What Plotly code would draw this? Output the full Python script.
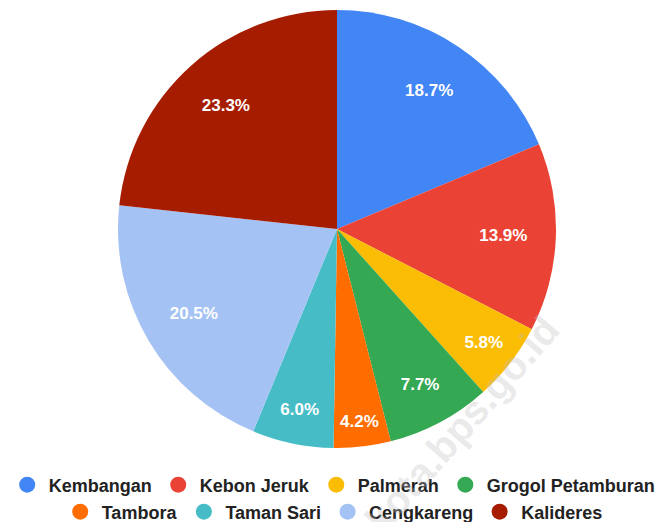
import plotly.graph_objects as go

labels = ["Kembangan", "Kebon Jeruk", "Palmerah", "Grogol Petamburan",
          "Tambora", "Taman Sari", "Cengkareng", "Kalideres"]
values = [18.7, 13.9, 5.8, 7.7, 4.2, 6.0, 20.5, 23.3]
colors = ["#4285F4", "#EA4335", "#FBBC04", "#34A853",
          "#FF6D01", "#46BDC6", "#A4C2F4", "#A61C00"]
legend_rows = ["legend", "legend", "legend", "legend",
               "legend2", "legend2", "legend2", "legend2"]
watermark = "jakbarkota.bps.go.id"

W, H = 661, 514  # page body adds an 8px offset; this fills the 669x522 window
pie_domain = dict(x=[0.16641, 0.82905], y=[0.14397, 0.99611])

fig = go.Figure()
# the slices
fig.add_trace(go.Pie(
    labels=labels, values=values, sort=False, direction="clockwise",
    rotation=0,
    marker=dict(colors=colors, line=dict(width=0)),
    textinfo="none",
    showlegend=False, hoverinfo="label+value",
    domain=pie_domain,
))
# same slices, transparent ring on top: carries the percentage labels at ~3/4 radius
fig.add_trace(go.Pie(
    labels=labels, values=values, sort=False, direction="clockwise",
    rotation=0, hole=0.52,
    marker=dict(colors=["rgba(0,0,0,0)"] * len(values), line=dict(width=0)),
    texttemplate="%{value:.1f}%", textposition="inside",
    insidetextorientation="horizontal",
    textfont=dict(color="white", size=17, family="Liberation Sans", weight="bold"),
    showlegend=False, hoverinfo="skip",
    domain=pie_domain,
))
for lab, col, lg in zip(labels, colors, legend_rows):
    fig.add_trace(go.Scatter(
        x=[None], y=[None], mode="markers", name=lab,
        marker=dict(symbol="circle", size=16, color=col),
        showlegend=True, legend=lg,
    ))

fig.add_annotation(
    text=watermark, x=415, y=461, xref="x", yref="y", showarrow=False,
    textangle=-49, font=dict(size=40, family="Liberation Sans", weight="bold",
                             color="rgba(190,190,190,0.33)"),
)

legend_font = dict(size=18, family="Liberation Sans", weight="bold", color="#222222")
fig.update_layout(
    width=W, height=H,
    margin=dict(l=0, r=0, t=0, b=0, autoexpand=False),
    paper_bgcolor="white", plot_bgcolor="rgba(0,0,0,0)",
    xaxis=dict(visible=False, range=[0, W], fixedrange=True),
    yaxis=dict(visible=False, range=[H, 0], fixedrange=True),
    uniformtext=dict(minsize=17, mode="show"),
    legend=dict(
        orientation="h", x=0.492, xanchor="center", y=0.072, yanchor="middle",
        font=legend_font, itemsizing="trace", itemwidth=33, bgcolor="rgba(0,0,0,0)",
    ),
    legend2=dict(
        orientation="h", x=0.492, xanchor="center", y=0.0195, yanchor="middle",
        font=legend_font, itemsizing="trace", itemwidth=33, bgcolor="rgba(0,0,0,0)",
    ),
)
fig.write_html("out.html")
